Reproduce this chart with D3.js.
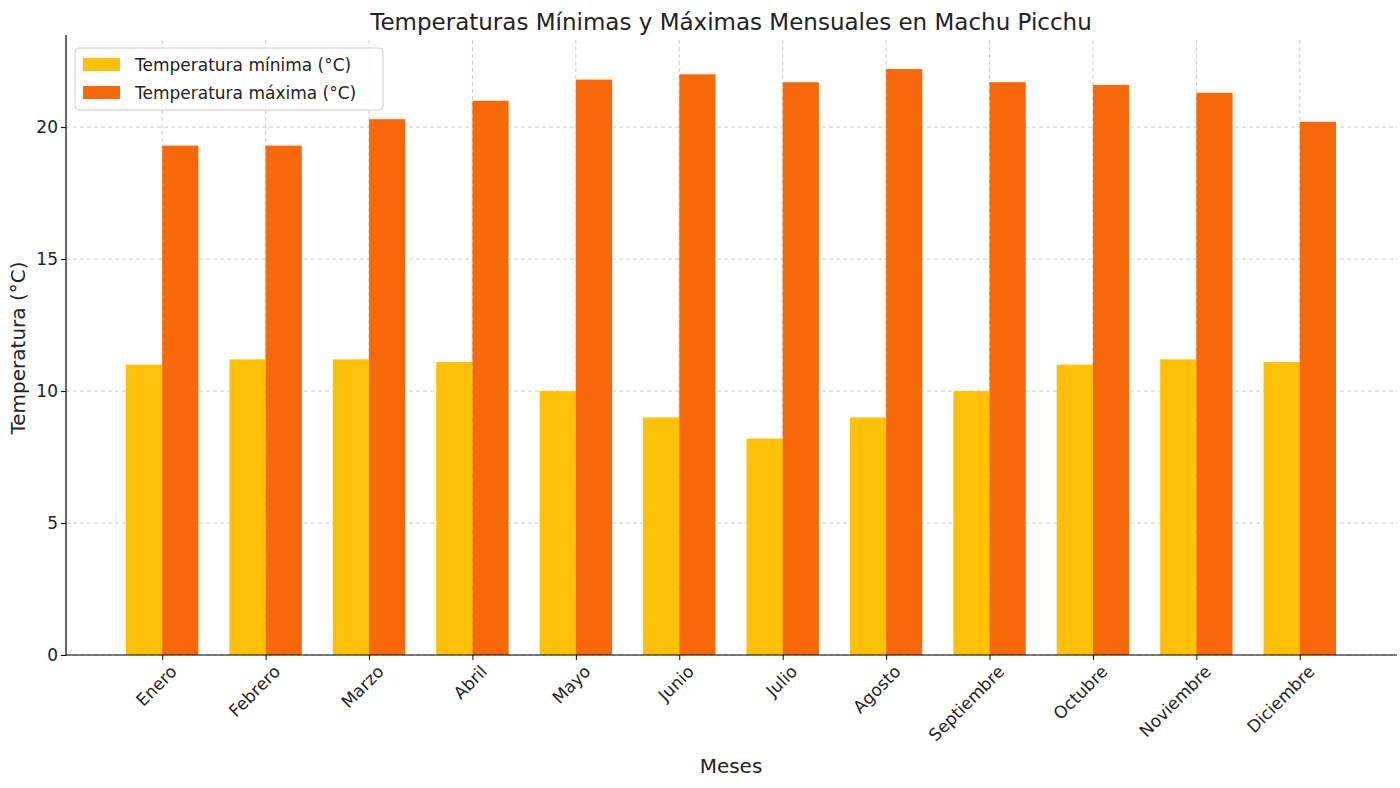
<!DOCTYPE html>
<html><head><meta charset="utf-8">
<script src="https://cdn.jsdelivr.net/npm/d3@7"></script>
<style>body{margin:0;background:#fff}text{font-family:"DejaVu Sans",sans-serif;fill:#222}</style>
</head><body><svg id="c" width="1400" height="788"></svg>
<script>
const months=["Enero","Febrero","Marzo","Abril","Mayo","Junio","Julio","Agosto","Septiembre","Octubre","Noviembre","Diciembre"];
const tmin=[11.0,11.2,11.2,11.1,10.0,9.0,8.2,9.0,10.0,11.0,11.2,11.1];
const tmax=[19.3,19.3,20.3,21.0,21.8,22.0,21.7,22.2,21.7,21.6,21.3,20.2];
const yTicks=[0,5,10,15,20];
const svg=d3.select("#c");
const L=66,R=1397,T=40,B=655;
const x=d3.scaleLinear().domain([-0.93,11.94]).range([L,R]);
const y=d3.scaleLinear().domain([0,23.3]).range([B,T]);
const w=0.35;
const g=svg.append("g");
// grid
g.selectAll(".gy").data(yTicks).join("line").attr("x1",L).attr("x2",R).attr("y1",d=>y(d)).attr("y2",d=>y(d)).attr("stroke","#ccc").attr("stroke-dasharray","4,3");
g.selectAll(".gx").data(months).join("line").attr("x1",(d,i)=>x(i)).attr("x2",(d,i)=>x(i)).attr("y1",T).attr("y2",B).attr("stroke","#ccc").attr("stroke-dasharray","4,3");
// bars
g.selectAll(".bmin").data(tmin).join("rect").attr("x",(d,i)=>x(i-w)).attr("width",x(w)-x(0)).attr("y",d=>y(d)).attr("height",d=>B-y(d)).attr("fill","#FFC107");
g.selectAll(".bmax").data(tmax).join("rect").attr("x",(d,i)=>x(i)).attr("width",x(w)-x(0)).attr("y",d=>y(d)).attr("height",d=>B-y(d)).attr("fill","#F76808");
// axes
const ya=svg.append("g").attr("transform",`translate(${L},0)`).call(d3.axisLeft(y).tickValues(yTicks).tickSize(5).tickSizeOuter(0));
const xa=svg.append("g").attr("transform",`translate(0,${B})`).call(d3.axisBottom(x).tickValues(d3.range(12)).tickFormat(i=>months[i]).tickSize(5).tickSizeOuter(0));
[ya,xa].forEach(a=>{a.select(".domain").attr("stroke","#000").attr("stroke-width",1.2);a.selectAll("text").style("font-size","17px").style("font-family","DejaVu Sans").attr("fill","#222");a.selectAll(".tick line").attr("stroke","#000");});
ya.select(".domain").attr("d",`M0,${B}V${T-5}`);
xa.select(".domain").attr("d",`M${L},0H${R}`);
xa.selectAll("text").attr("text-anchor","end").attr("dx","-0.1em").attr("dy","0.9em").attr("transform","rotate(-45)");
// titles
svg.append("text").attr("x",731).attr("y",30).attr("text-anchor","middle").style("font-size","23px").text("Temperaturas Mínimas y Máximas Mensuales en Machu Picchu");
svg.append("text").attr("x",731).attr("y",773).attr("text-anchor","middle").style("font-size","20px").text("Meses");
svg.append("text").attr("transform","translate(25,348) rotate(-90)").attr("text-anchor","middle").style("font-size","20px").text("Temperatura (°C)");
// legend
const lg=svg.append("g");
lg.append("rect").attr("x",75).attr("y",48).attr("width",308).attr("height",62).attr("rx",4).attr("fill","#fff").attr("fill-opacity",0.85).attr("stroke","#ccc");
[["Temperatura mínima (°C)","#FFC107"],["Temperatura máxima (°C)","#F76808"]].forEach((d,i)=>{
 lg.append("rect").attr("x",83).attr("y",58+i*28).attr("width",37).attr("height",13).attr("fill",d[1]);
 lg.append("text").attr("x",135).attr("y",71+i*28).style("font-size","17px").text(d[0]);
});
</script></body></html>
